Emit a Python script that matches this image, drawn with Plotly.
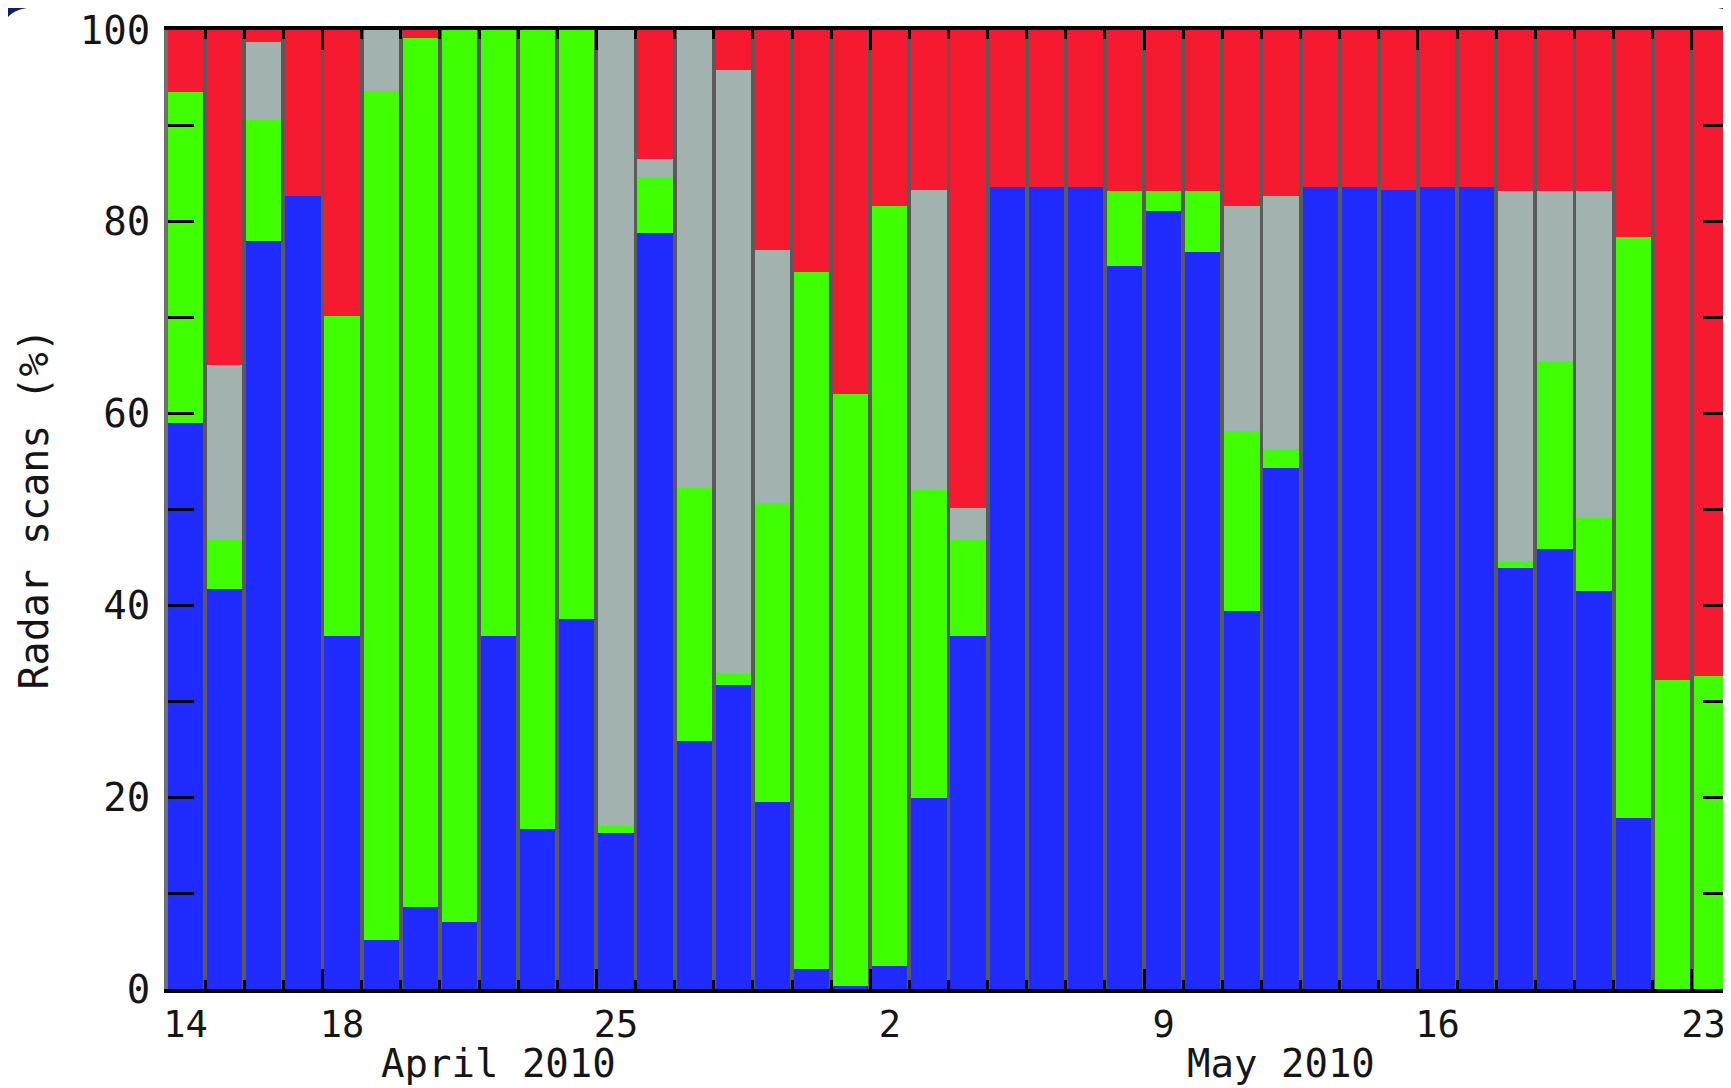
import plotly.graph_objects as go

# ---- data (percent of radar scans per day, 14 April - 23 May 2010) ----
dates = [f"2010-04-{d:02d}" for d in range(14, 31)] + [f"2010-05-{d:02d}" for d in range(1, 24)]

blue = [59.0, 41.7, 78.0, 82.7, 36.8, 5.1, 8.6, 7.0, 36.8, 16.7,
        38.6, 16.3, 78.8, 25.9, 31.7, 19.5, 2.1, 0.3, 2.4, 19.9,
        36.8, 83.6, 83.6, 83.6, 75.4, 81.1, 76.9, 39.4, 54.3, 83.6,
        83.6, 83.3, 83.6, 83.6, 43.9, 45.9, 41.5, 17.8, 0.0, 0.0]
green = [34.5, 5.1, 12.6, 0.0, 33.4, 88.5, 90.6, 93.0, 63.2, 83.3,
         61.4, 0.8, 5.9, 26.3, 1.3, 31.2, 72.7, 61.7, 79.3, 32.1,
         10.0, 0.0, 0.0, 0.0, 7.8, 2.1, 6.3, 18.8, 2.0, 0.0,
         0.0, 0.0, 0.0, 0.0, 0.7, 19.6, 7.6, 60.6, 32.2, 32.6]
gray = [0.0, 18.3, 8.2, 0.0, 0.0, 6.4, 0.0, 0.0, 0.0, 0.0,
        0.0, 82.9, 1.8, 47.8, 62.8, 26.4, 0.0, 0.0, 0.0, 31.3,
        3.4, 0.0, 0.0, 0.0, 0.0, 0.0, 0.0, 23.5, 26.4, 0.0,
        0.0, 0.0, 0.0, 0.0, 38.6, 17.7, 34.1, 0.0, 0.0, 0.0]
red = [6.5, 34.9, 1.2, 17.3, 29.8, 0.0, 0.8, 0.0, 0.0, 0.0,
       0.0, 0.0, 13.5, 0.0, 4.2, 22.9, 25.2, 38.0, 18.3, 16.7,
       49.8, 16.4, 16.4, 16.4, 16.8, 16.8, 16.8, 18.3, 17.3, 16.4,
       16.4, 16.7, 16.4, 16.4, 16.8, 16.8, 16.8, 21.6, 67.8, 67.4]

# label positions (the last one nudged left so it stays inside the page)
tick_days = [0, 4, 11, 18, 25, 32, 38.8]
tick_text = ["14", "18", "25", "2", "9", "16", "23"]
week_marks = [3.5, 10.5, 17.5, 24.5, 31.5, 38.5]
months = ["April 2010", "May 2010"]
month_pos = [8, 28]

x = list(range(len(dates)))
FONT = "DejaVu Sans Mono"
TXT = "#151515"

L, R, T, B = 160, 2, 22, 99
W, H = 1723, 1080          # page body adds an 8px margin

fig = go.Figure()
for name, vals, col in [("blue", blue, "#1f2bff"), ("green", green, "#40ff00"),
                        ("gray", gray, "#a1b2af"), ("red", red, "#f51a30")]:
    fig.add_trace(go.Bar(x=x, y=vals, name=name, marker=dict(color=col, line=dict(width=0)),
                         hovertext=dates, showlegend=False))

# overlay axis used only for the taller weekly tick marks
fig.add_trace(go.Scatter(x=[], y=[], xaxis="x2", showlegend=False))

xr = [-0.45, len(x) - 1 + 0.45]
fig.update_layout(
    barmode="stack",
    bargap=0.1,
    width=W, height=H,
    margin=dict(l=L, r=R, t=T, b=B),
    paper_bgcolor="white",
    plot_bgcolor="#5a5a5a",
    font=dict(family=FONT, size=36, color=TXT),
    xaxis=dict(
        range=xr, tickmode="array", tickvals=tick_days, ticktext=tick_text,
        ticks="", showgrid=False, zeroline=False,
        showline=True, linecolor="black", linewidth=4, mirror="allticks",
        tickfont=dict(family=FONT, size=37, color=TXT),
        ticklabelstandoff=0, ticklabeloverflow="allow", automargin=False,
        minor=dict(tickmode="array", tickvals=[i + 0.5 for i in range(len(x) - 1)],
                   ticks="inside", ticklen=9, tickwidth=3, tickcolor="black", showgrid=False),
    ),
    xaxis2=dict(
        overlaying="x", anchor="y", side="bottom", range=xr,
        tickmode="array", tickvals=week_marks, ticks="inside", ticklen=20, tickwidth=3,
        tickcolor="black", showticklabels=False, showgrid=False, zeroline=False,
        showline=False, mirror="allticks",
    ),
    yaxis=dict(
        range=[0, 100], tickmode="array", tickvals=[0, 20, 40, 60, 80, 100],
        ticks="inside", ticklen=26, tickwidth=3, tickcolor="black",
        showgrid=False, zeroline=False,
        showline=True, linecolor="#6e6e6e", linewidth=4, mirror="allticks",
        tickfont=dict(family=FONT, size=39, color=TXT),
        ticklabelstandoff=6, ticklabeloverflow="allow", automargin=False,
        minor=dict(tickmode="array", tickvals=[10, 30, 50, 70, 90],
                   ticks="inside", ticklen=14, tickwidth=3, tickcolor="black", showgrid=False),
    ),
)

pw = W - L - R
ph = H - T - B
fig.add_annotation(text="Radar scans (%)", textangle=-90, xref="paper", yref="paper",
                   x=(25 - L) / pw, y=0.50, xanchor="center", yanchor="middle", showarrow=False,
                   font=dict(family=FONT, size=40, color=TXT))
for m, p in zip(months, month_pos):
    fig.add_annotation(text=m, xref="x", yref="paper", x=p, y=-0.078,
                       xanchor="center", yanchor="middle", showarrow=False,
                       font=dict(family=FONT, size=39, color=TXT))

# decorative corner arcs from the original page frame (page pixel coords -> paper)
def px(xp, yp):
    return (xp - 8 - L) / pw, (8 + T + ph - yp) / ph

def path(points):
    s = ""
    for cmd, pts in points:
        s += cmd + " " + " ".join(f"{a:.5f},{b:.5f}" for a, b in [px(*q) for q in pts]) + " "
    return s + "Z"

fig.add_shape(type="path", xref="paper", yref="paper", line=dict(width=0),
              fillcolor="#0b2160",
              path=path([("M", [(8, 8)]), ("L", [(27, 8)]), ("Q", [(14, 10), (8, 17)])]))
fig.add_shape(type="path", xref="paper", yref="paper", line=dict(width=0),
              fillcolor="#0b2160",
              path=path([("M", [(1731, 8)]), ("L", [(1718, 8)]), ("Q", [(1726, 9), (1731, 12)])]))

fig.write_html("out.html")
